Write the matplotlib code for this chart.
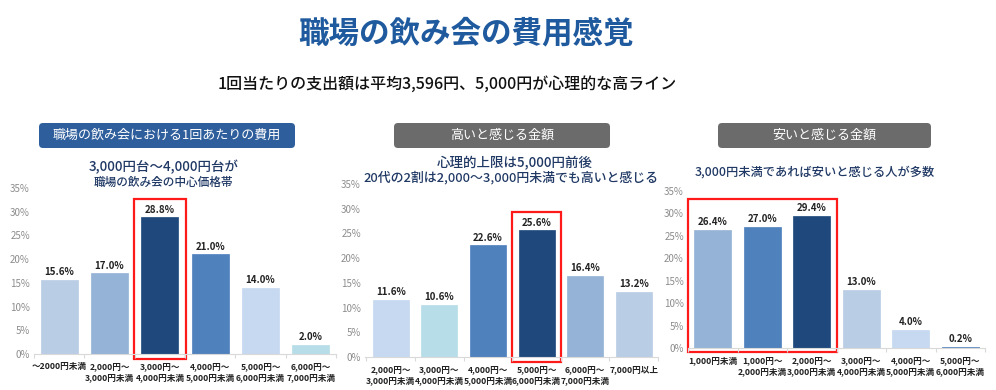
import matplotlib
matplotlib.use("Agg")
import matplotlib.pyplot as plt
from matplotlib.patches import FancyBboxPatch, Rectangle
from matplotlib.transforms import Bbox, TransformedBbox

plt.rcParams['font.family'] = ['Noto Sans CJK JP', 'DejaVu Sans']

# --- data ---
cost_labels = ["～2000円未満", "2,000円～\n3,000円未満", "3,000円～\n4,000円未満",
               "4,000円～\n5,000円未満", "5,000円～\n6,000円未満", "6,000円～\n7,000円未満"]
cost_values = [15.6, 17.0, 28.8, 21.0, 14.0, 2.0]

high_labels = ["2,000円～\n3,000円未満", "3,000円～\n4,000円未満", "4,000円～\n5,000円未満",
               "5,000円～\n6,000円未満", "6,000円～\n7,000円未満", "7,000円以上"]
high_values = [11.6, 10.6, 22.6, 25.6, 16.4, 13.2]

low_labels = ["1,000円未満", "1,000円～\n2,000円未満", "2,000円～\n3,000円未満",
              "3,000円～\n4,000円未満", "4,000円～\n5,000円未満", "5,000円～\n6,000円未満"]
low_values = [26.4, 27.0, 29.4, 13.0, 4.0, 0.2]

# --- styles ---
cost_colors = ["#B9CDE5", "#95B3D7", "#1F497D", "#4F81BD", "#C6D9F1", "#B7DEE8"]
high_colors = ["#C6D9F1", "#B7DEE8", "#4F81BD", "#1F497D", "#95B3D7", "#B9CDE5"]
low_colors = ["#95B3D7", "#4F81BD", "#1F497D", "#B9CDE5", "#C6D9F1", "#4F81BD"]
navy = "#1F3864"

W, H = 996, 390
fig = plt.figure(figsize=(W / 100, H / 100), dpi=100)

bg = fig.add_axes([0, 0, 1, 1])
bg.set_xlim(0, W)
bg.set_ylim(H, 0)
bg.axis('off')

bg.text(466, 33, "職場の飲み会の費用感覚", ha='center', va='center',
        fontsize=22, fontweight='bold', color="#1F5A9E")
bg.text(447, 84, "1回当たりの支出額は平均3,596円、5,000円が心理的な高ライン",
        ha='center', va='center', fontsize=11.5, fontweight='medium', color="#111111")


def header(x0, x1, text, color):
    bg.add_patch(FancyBboxPatch((x0, 123), x1 - x0, 25,
                                boxstyle="round,pad=0,rounding_size=4",
                                facecolor=color, edgecolor='none'))
    bg.text((x0 + x1) / 2, 135.5, text, ha='center', va='center',
            fontsize=9.4, color='white')


header(39, 295, "職場の飲み会における1回あたりの費用", "#2E5E9C")
header(394, 610, "高いと感じる金額", "#6B6B6B")
header(718, 931, "安いと感じる金額", "#6B6B6B")

bg.text(164, 167, "3,000円台～4,000円台が", ha='center', va='center',
        fontsize=9.7, fontweight='medium', color=navy)
bg.text(163, 182, "職場の飲み会の中心価格帯", ha='center', va='center',
        fontsize=8.4, fontweight='medium', color=navy)
bg.text(515, 163, "心理的上限は5,000円前後", ha='center', va='center',
        fontsize=9.7, fontweight='medium', color=navy)
bg.text(511, 178, "20代の2割は2,000～3,000円未満でも高いと感じる", ha='center', va='center',
        fontsize=9.3, fontweight='medium', color=navy)
bg.text(815, 172, "3,000円未満であれば安いと感じる人が多数", ha='center', va='center',
        fontsize=8.8, fontweight='medium', color=navy)


def panel(left, right, bottom, top, labels, values, colors, xlim, hl, clip_right=None):
    ax = fig.add_axes([left / W, 1 - bottom / H, (right - left) / W, (bottom - top) / H])
    ax.patch.set_visible(False)
    x = list(range(len(values)))
    ax.bar(x, values, width=0.74, color=colors, edgecolor=colors, linewidth=0.5)
    ax.set_xlim(*xlim)
    ax.set_ylim(0, 35)
    ax.set_yticks(range(0, 36, 5))
    ax.set_yticklabels([f"{v}%" for v in range(0, 36, 5)])
    ax.tick_params(axis='y', length=0, labelsize=7, labelcolor='#8C8C8C', pad=3)
    ax.set_xticks([i - 0.5 for i in range(len(values) + 1)])
    ax.set_xticklabels([])
    ax.tick_params(axis='x', length=3, color='#D9D9D9', direction='out')
    for s in ['top', 'right', 'left']:
        ax.spines[s].set_visible(False)
    ax.spines['bottom'].set_color('#D9D9D9')

    clip = None
    if clip_right is not None:
        clip = TransformedBbox(Bbox([[0, 0], [clip_right / W, 1]]), fig.transFigure)
    for i, (lab, v) in enumerate(zip(labels, values)):
        ax.annotate(f"{v:.1f}%", xy=(i, v), xytext=(0, 2), textcoords='offset points',
                    ha='center', va='bottom', fontsize=7, fontweight='bold', color='#222222')
        t = ax.annotate(lab, xy=(i, 0), xycoords=('data', 'axes fraction'),
                        xytext=(0, -6), textcoords='offset points', ha='center', va='top',
                        fontsize=6.2, fontweight='bold', color='#222222', linespacing=1.2,
                        annotation_clip=False)
        if clip is not None:
            t.set_clip_on(True)
            t.set_clip_box(clip)

    a, b = hl
    top_v = max(values[a:b + 1])
    ax.add_patch(Rectangle((a - 0.51, -1.0), (b - a) + 1.02, top_v + 4.8,
                           fill=False, edgecolor='#FF1A1A', linewidth=1.6, clip_on=False))
    return ax


panel(34, 336, 354, 188, cost_labels, cost_values, cost_colors, (-0.5, 5.37), (2, 2), clip_right=336)
panel(365, 658, 357, 184, high_labels, high_values, high_colors, (-0.53, 5.48), (3, 3))
panel(688, 985, 348, 191, low_labels, low_values, low_colors, (-0.5, 5.5), (0, 2))

fig.savefig("out.png", dpi=100)
